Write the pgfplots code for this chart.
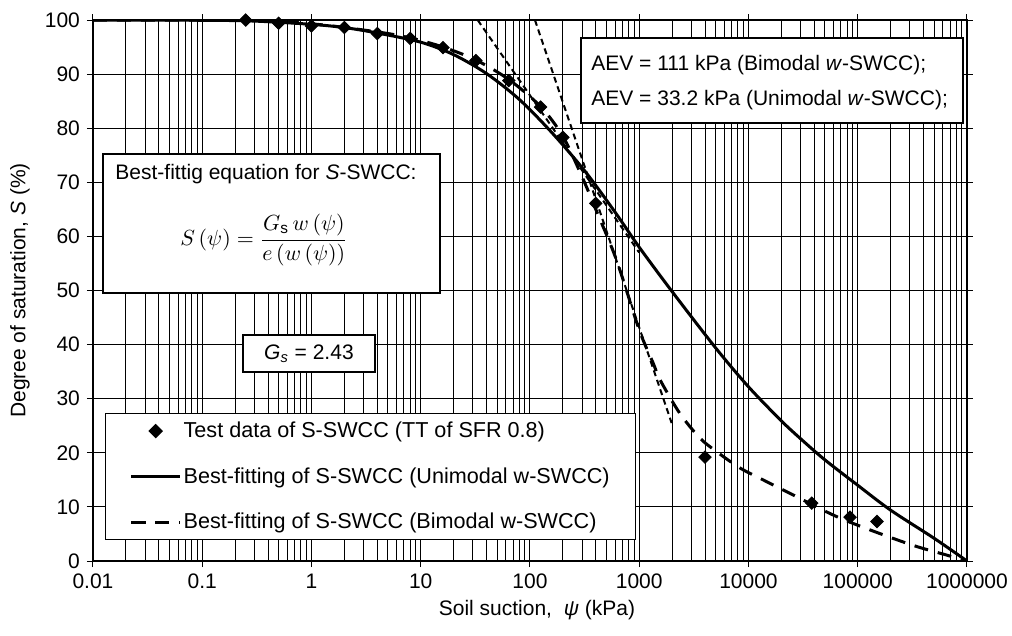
\documentclass[border=0pt]{standalone}
\usepackage{fontspec}
\setmainfont{Liberation Sans}
\usepackage{pgfplots}
\pgfplotsset{compat=1.18}

\begin{document}
\begin{tikzpicture}[font=\fontsize{10.5}{12.6}\selectfont]
\begin{axis}[
  scale only axis, width=437pt, height=270.5pt,
  xmode=log, xmin=0.01, xmax=1000000, ymin=0, ymax=100,
  xtick={0.01,0.1,1,10,100,1000,10000,100000,1000000},
  xticklabels={0.01,0.1,1,10,100,1000,10000,100000,1000000},
  minor xtick={0.02,0.03,0.04,0.05,0.06,0.07,0.08,0.09,
    0.2,0.3,0.4,0.5,0.6,0.7,0.8,0.9,2,3,4,5,6,7,8,9,
    20,30,40,50,60,70,80,90,200,300,400,500,600,700,800,900,
    2000,3000,4000,5000,6000,7000,8000,9000,
    20000,30000,40000,50000,60000,70000,80000,90000,
    200000,300000,400000,500000,600000,700000,800000,900000},
  ytick={0,10,...,100},
  grid=both,
  major grid style={black, line width=0.5pt},
  minor grid style={black, line width=0.5pt},
  axis line style={black, line width=0.6pt},
  tick style={black, line width=0.5pt},
  tick align=center, major tick length=6pt, minor tick length=0pt,
  /pgf/number format/assume math mode=true,
  xlabel={Soil suction,\ \ \textit{ψ} (kPa)},
  ylabel={Degree of saturation, \textit{S} (\%)},
  xlabel style={at={(axis description cs:0.508,-0.0906)}, anchor=center},
  ylabel style={at={(axis description cs:-0.0835,0.5)}, anchor=center},
  legend cell align=left,
  legend image code/.code={\draw[mark repeat=2,mark phase=2,#1] plot coordinates {(0cm,0cm) (0.43cm,0cm) (0.86cm,0cm)};},
  legend style={at={(axis description cs:0.0137,0.2736)}, anchor=north west,
    draw=black, line width=0.75pt, fill=white, inner xsep=12pt, inner ysep=3pt,
    row sep=11.5pt, nodes={inner sep=1pt}, font=\fontsize{10.8}{13}\selectfont},
]
% test data
\addplot[only marks, mark=square*, mark size=2.2pt, mark options={rotate=45}, black] coordinates {
  (0.25,100) (0.5,99.4) (1,98.9) (2,98.6) (4,97.5) (8,96.6) (16,94.9)
  (32,92.5) (64,88.8) (125,83.9) (200,78.3) (400,66.1)
  (4000,19.2) (38000,10.7) (85000,8.1) (150000,7.3)
};
% unimodal fit
\addplot[black, line width=1.5pt, smooth] coordinates {
  (0.01,100) (0.1,99.95) (0.3,99.8) (1,99.2) (2,98.6) (4,97.6) (10,95.9)
  (20,93.6) (40,90.1) (80,85.3) (160,79.1) (320,72) (600,64.5) (1000,58)
  (2000,49.8) (5000,39.4) (10000,32.2) (20000,25.9) (30000,22.6)
  (50000,18.7) (100000,14) (200000,9.4) (500000,4.2) (1000000,0)
};
% bimodal fit
\addplot[black, line width=1.5pt, dash pattern=on 7pt off 5pt, smooth] coordinates {
  (0.01,100) (0.25,99.9) (1,99.3) (4,97.8) (8,96.7) (16,95) (32,92.6)
  (64,89) (125,84) (200,78.5) (300,71) (400,65) (620,55.6) (1000,42.7)
  (1340,36.6) (1550,33.5) (2350,27.3) (3600,22.7) (5120,20.2) (8350,17.2)
  (13600,15) (25700,12.2) (59600,8.5) (120000,6.0) (320000,2.9)
  (650000,1.1) (1000000,0)
};
\legend{Test data of S-SWCC (TT of SFR 0.8),
  Best-fitting of S-SWCC (Unimodal w-SWCC),
  Best-fitting of S-SWCC (Bimodal w-SWCC)}
% tangent construction lines
\addplot[forget plot, black, line width=1pt, dash pattern=on 3pt off 2pt] coordinates {(0.01,100) (1000,100)};
\addplot[forget plot, black, line width=1pt, dash pattern=on 3pt off 2pt] coordinates {(33.2,100) (1000,57)};
\addplot[forget plot, black, line width=1pt, dash pattern=on 3pt off 2pt] coordinates {(111,100) (1980,25.5)};

% text boxes
\draw[fill=white, line width=0.75pt] (axis description cs:0.5584,0.8096) rectangle (axis description cs:0.9954,0.9667);
\node[anchor=west, inner sep=0pt] at (axis description cs:0.5698,0.9168) {AEV = 111 kPa (Bimodal \textit{w}-SWCC);};
\node[anchor=west, inner sep=0pt] at (axis description cs:0.5698,0.8521) {AEV = 33.2 kPa (Unimodal \textit{w}-SWCC);};

\draw[fill=white, line width=0.75pt] (axis description cs:0.01144,0.4954) rectangle (axis description cs:0.397,0.7523);
\node[anchor=west, inner sep=0pt] at (axis description cs:0.0252,0.7153) {Best-fittig equation for \textit{S}-SWCC:};
\node[inner sep=0pt, font=\fontsize{11}{13}\selectfont] at (axis description cs:0.1957,0.5933)
  {$\displaystyle S\left(\psi\right)=\frac{G_{\mathrm{s}}\,w\left(\psi\right)}{e\left(w\left(\psi\right)\right)}$};

\draw[fill=white, line width=0.75pt] (axis description cs:0.1716,0.3494) rectangle (axis description cs:0.3227,0.4177);
\node[inner sep=0pt] at (axis description cs:0.2471,0.3835) {\textit{G}\textsubscript{\textit{s}} = 2.43};

\coordinate (bbl) at (axis description cs:-0.1064,-0.1368);
\coordinate (btr) at (axis description cs:1.0515,1.0370);
\end{axis}
\pgfresetboundingbox
\path[use as bounding box] (bbl) rectangle (btr);
\end{tikzpicture}
\end{document}
